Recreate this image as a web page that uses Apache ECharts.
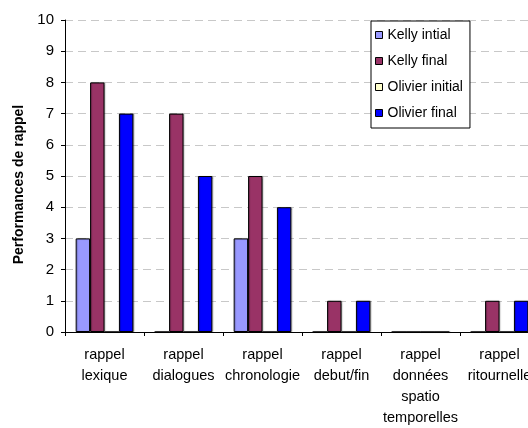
<!DOCTYPE html>
<html>
<head>
<meta charset="utf-8">
<script src="https://cdn.jsdelivr.net/npm/echarts@6/dist/echarts.min.js"></script>
<style>
  html, body { margin: 0; padding: 0; background: #fff; overflow: hidden; }
  /* the plot runs a little past the right edge of the window */
  #chart { width: 560px; height: 428px; }
</style>
</head>
<body>
<div id="chart"></div>
<script>
// Recall scores per story element, before and after, for two children
const categories = [
  'rappel\nlexique',
  'rappel\ndialogues',
  'rappel\nchronologie',
  'rappel\ndebut/fin',
  'rappel\ndonnées\nspatio\ntemporelles',
  'rappel\nritournelle'
];
const kellyInitial   = [3, 0, 3, 0, 0, 0];
const kellyFinal     = [8, 7, 5, 1, 0, 1];
const olivierInitial = [0, 0, 0, 0, 0, 0];
const olivierFinal   = [7, 5, 4, 1, 0, 1];
const seriesNames = ['Kelly intial', 'Kelly final', 'Olivier initial', 'Olivier final'];
const seriesColors = ['#9999FF', '#993366', '#FFFFCC', '#0000FF'];
const yTicks = [0, 1, 2, 3, 4, 5, 6, 7, 8, 9, 10];

const FONT = '"Liberation Sans", Arial, sans-serif';
const chart = echarts.init(document.getElementById('chart'), null, { renderer: 'canvas' });

const dataSets = [kellyInitial, kellyFinal, olivierInitial, olivierFinal];

chart.setOption({
  animation: false,
  backgroundColor: '#ffffff',
  textStyle: { fontFamily: FONT, color: '#000' },
  grid: { left: 65, top: 20, bottom: 89, right: 21, containLabel: false },
  legend: {
    orient: 'vertical',
    left: 371,
    top: 21,
    padding: [6, 7, 7, 4],
    itemGap: 10,
    itemWidth: 7,
    itemHeight: 7,
    borderColor: '#000',
    borderWidth: 1,
    backgroundColor: '#fff',
    icon: 'rect',
    itemStyle: { borderColor: '#000', borderWidth: 1, shadowBlur: 0, shadowOffsetX: 0 },
    textStyle: { fontFamily: FONT, fontSize: 14, color: '#000', lineHeight: 16 },
    data: seriesNames
  },
  xAxis: {
    type: 'category',
    data: categories,
    axisLine: { lineStyle: { color: '#000', width: 1 } },
    axisTick: { show: true, length: 4, lineStyle: { color: '#000' } },
    axisLabel: {
      interval: 0,
      margin: 12,
      fontFamily: FONT,
      fontSize: 14.5,
      lineHeight: 21,
      color: '#000'
    }
  },
  yAxis: {
    type: 'value',
    min: yTicks[0],
    max: yTicks[yTicks.length - 1],
    interval: 1,
    name: 'Performances de rappel',
    nameLocation: 'middle',
    nameGap: 38,
    nameTextStyle: {
      fontFamily: FONT, fontSize: 14, fontWeight: 'bold', color: '#000',
      padding: [0, 17, 0, 0]
    },
    axisLine: { show: true, lineStyle: { color: '#000', width: 1 } },
    axisTick: { show: true, length: 4, lineStyle: { color: '#000' } },
    axisLabel: { margin: 11, fontFamily: FONT, fontSize: 15, color: '#000' },
    splitLine: { show: true, lineStyle: { color: '#c8c8c8', type: [8, 5], width: 1 } }
  },
  series: seriesNames.map((name, i) => ({
    name,
    type: 'bar',
    data: dataSets[i],
    barGap: '0%',
    barCategoryGap: '27%',
    itemStyle: {
      color: seriesColors[i],
      borderColor: '#000',
      borderWidth: 1,
      shadowColor: 'rgba(0,0,0,0.25)',
      shadowOffsetX: 1,
      shadowOffsetY: 0,
      shadowBlur: 1
    }
  }))
});
</script>
</body>
</html>
